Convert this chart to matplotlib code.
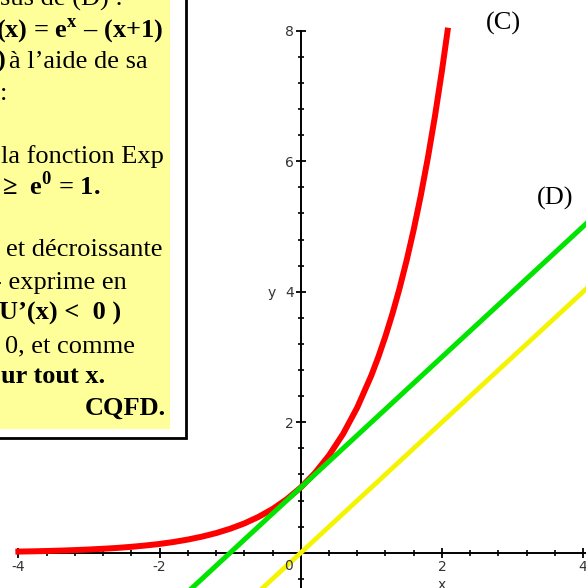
import numpy as np
import matplotlib
matplotlib.use("Agg")
import matplotlib.pyplot as plt
from matplotlib.patches import Rectangle
from matplotlib.ticker import FixedLocator

plt.rcParams['mathtext.fontset'] = 'custom'
plt.rcParams['mathtext.rm'] = 'Liberation Serif'
plt.rcParams['mathtext.bf'] = 'Liberation Serif:bold'

# courbe (C) : points
curve_x = [-4.0, -3.8, -3.6, -3.4, -3.2, -3.0, -2.8, -2.6, -2.4, -2.2, -2.0,
           -1.8, -1.6, -1.4, -1.2, -1.0, -0.8, -0.6, -0.4, -0.2, 0.0,
           0.2, 0.4, 0.6, 0.8, 1.0, 1.1, 1.2, 1.3, 1.4, 1.5, 1.6, 1.7,
           1.8, 1.9, 2.0, 2.08]
curve_y = [0.018, 0.022, 0.027, 0.033, 0.041, 0.050, 0.061, 0.074, 0.091, 0.111, 0.135,
           0.165, 0.202, 0.247, 0.301, 0.368, 0.449, 0.549, 0.670, 0.819, 1.0,
           1.221, 1.492, 1.822, 2.226, 2.718, 3.004, 3.320, 3.669, 4.055, 4.482, 4.953, 5.474,
           6.050, 6.686, 7.389, 8.0]

# droite (D) et droite y = x
line_d_x = [-1.6, 4.1]
line_d_y = [-0.6, 5.1]
line_id_x = [-0.6, 4.1]
line_id_y = [-0.6, 4.1]

xtick_pos = [-4, -2, 0, 2, 4]
xtick_lbl = ['-4', '-2', '', '2', '4']
ytick_pos = [2, 4, 6, 8]
ytick_lbl = ['2', '4', '6', '8']

W, H = 586, 588
fig = plt.figure(figsize=(W / 100, H / 100), dpi=100)
ax = fig.add_axes([0, 0, 1, 1])
ax.set_xlim(-4.26, 4.04)
ax.set_ylim(-0.54, 8.47)

ax.plot(curve_x, curve_y, color='#ff0000', lw=4.3, zorder=3)
ax.plot(line_d_x, line_d_y, color='#00e400', lw=3.6, zorder=3)
ax.plot(line_id_x, line_id_y, color='#f4f400', lw=3.4, zorder=3)

for s in ['top', 'right']:
    ax.spines[s].set_visible(False)
ax.spines['left'].set_position(('data', 0))
ax.spines['bottom'].set_position(('data', 0))
ax.spines['left'].set_bounds(-0.6, 8)
ax.spines['bottom'].set_bounds(-4, 4.1)
ax.spines['left'].set_linewidth(1.4)
ax.spines['bottom'].set_linewidth(1.4)
ax.patch.set_visible(False)

ax.xaxis.set_major_locator(FixedLocator(xtick_pos))
ax.set_xticklabels(xtick_lbl)
ax.yaxis.set_major_locator(FixedLocator(ytick_pos))
ax.set_yticklabels(ytick_lbl)
ax.xaxis.set_minor_locator(FixedLocator(np.arange(-4, 4.01, 0.4)))
ax.yaxis.set_minor_locator(FixedLocator(np.arange(-0.4, 8.01, 0.4)))
ax.tick_params(which='major', direction='inout', length=7, width=1.3,
               labelsize=10, labelcolor='#333333', pad=1.5)
ax.tick_params(which='minor', direction='inout', length=4.8, width=1.2)

ax.annotate('0', xy=(0, 0), xytext=(-9, -4.5), textcoords='offset points',
            ha='center', va='top', fontsize=10, color='#333333')
ax.text(-0.41, 4, 'y', ha='center', va='center_baseline', fontsize=10, color='#333333')
ax.text(2, -0.49, 'x', ha='center', va='center', fontsize=10, color='#333333')


def fx(px):
    return px / W


def fy(py):
    return 1 - py / H


serif = 'Liberation Serif'
fig.text(fx(503), fy(23), '(C)', family=serif, fontsize=19, ha='center', va='center')
fig.text(fx(555), fy(198), '(D)', family=serif, fontsize=19, ha='center', va='center')

# encadré
fig.add_artist(Rectangle((fx(-5), fy(438)), 191 / W, 443 / H, transform=fig.transFigure,
                         facecolor='white', edgecolor='black', lw=2, zorder=1))
fig.add_artist(Rectangle((fx(-5), fy(429)), 175 / W, 434 / H, transform=fig.transFigure,
                         facecolor='#ffff99', edgecolor='none', zorder=1.5))

lines = [
    (123, 6, 'normal', 'sus de (D) :'),
    (163, 37, 'bold', r'(x) = e$^{\mathbf{x}}$ – (x+1)'),
    (148, 68, 'normal', 'à l’aide de sa'),
    (5, 68, 'bold', ')'),
    (7, 100, 'normal', ':'),
    (164, 163, 'normal', 'la fonction Exp'),
    (100, 195, 'bold', r'≥  e$^{\mathbf{0}}$ = 1.'),
    (163, 256, 'normal', 'et décroissante'),
    (127, 289, 'normal', '- exprime en'),
    (121, 320, 'bold', 'U’(x) <  0 )'),
    (135, 352, 'normal', '0, et comme'),
    (105, 383, 'bold', 'ur tout x.'),
    (166, 415, 'bold', 'CQFD.'),
]
for px, py, wt, s in lines:
    fig.text(fx(px), fy(py), s, family=serif, fontsize=19, fontweight=wt,
             ha='right', va='baseline', zorder=3)

fig.savefig('out.png', dpi=100)
